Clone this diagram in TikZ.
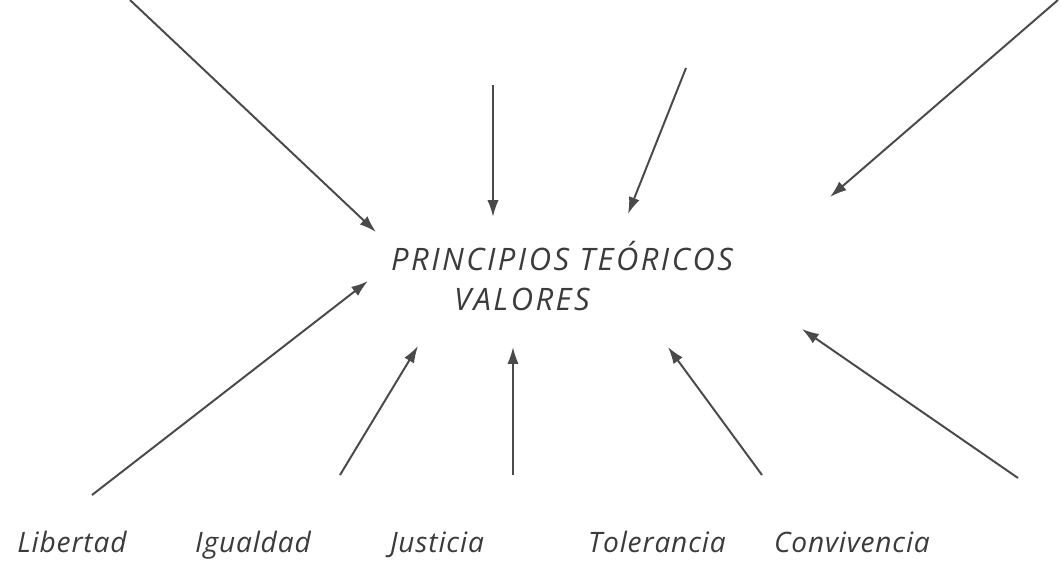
\documentclass[tikz,border=0pt]{standalone}
\usepackage{fontspec}
\setmainfont{Open Sans}
\usetikzlibrary{arrows.meta, positioning}
\definecolor{tinta}{HTML}{4A4A4A}
\tikzstyle{flecha} = [draw=tinta, line width=1.4pt, -{Latex[length=12pt,width=8pt]}]
\tikzstyle{etiqueta} = [text=tinta!80!black, font=\fontsize{20}{24}\selectfont\itshape\addfontfeatures{LetterSpace=3}, inner sep=0pt]
\tikzstyle{titulo} = [etiqueta, font=\fontsize{22}{26}\selectfont\itshape\addfontfeatures{LetterSpace=8}]

\begin{document}
\begin{tikzpicture}[x=0.025cm, y=-0.025cm]
\useasboundingbox (0, 0) rectangle (1061, 561);

  % centro
  \node[titulo, anchor=base] (principios) at (562, 270) {PRINCIPIOS TEÓRICOS};
  \node[titulo, anchor=base] (valores) at (522, 310) {VALORES};

  % valores de abajo
  \node[etiqueta, anchor=base] (libertad) at (72, 552) {Libertad};
  \node[etiqueta, anchor=base] (igualdad) at (253, 552) {Igualdad};
  \node[etiqueta, anchor=base] (justicia) at (437, 552) {Justicia};
  \node[etiqueta, anchor=base] (tolerancia) at (657, 552) {Tolerancia};
  \node[etiqueta, anchor=base] (convivencia) at (852, 552) {Convivencia};

  % flechas de arriba
  \coordinate (a1) at (130, 0);     \coordinate (p1) at (376, 232);
  \coordinate (a2) at (493, 85);    \coordinate (p2) at (493, 217);
  \coordinate (a3) at (686, 68);    \coordinate (p3) at (628, 214);
  \coordinate (a4) at (1058, 0);    \coordinate (p4) at (830, 197);
  \draw[flecha] (a1) -- (p1);
  \draw[flecha] (a2) -- (p2);
  \draw[flecha] (a3) -- (p3);
  \draw[flecha] (a4) -- (p4);

  % flechas de abajo
  \coordinate (b1) at (92, 495);    \coordinate (q1) at (368, 281);
  \coordinate (b2) at (340, 475);   \coordinate (q2) at (418, 346);
  \coordinate (b3) at (513, 475);   \coordinate (q3) at (513, 347);
  \coordinate (b4) at (762, 475);   \coordinate (q4) at (668, 347);
  \coordinate (b5) at (1018, 478);  \coordinate (q5) at (802, 329);
  \draw[flecha] (b1) -- (q1);
  \draw[flecha] (b2) -- (q2);
  \draw[flecha] (b3) -- (q3);
  \draw[flecha] (b4) -- (q4);
  \draw[flecha] (b5) -- (q5);

\end{tikzpicture}
\end{document}
